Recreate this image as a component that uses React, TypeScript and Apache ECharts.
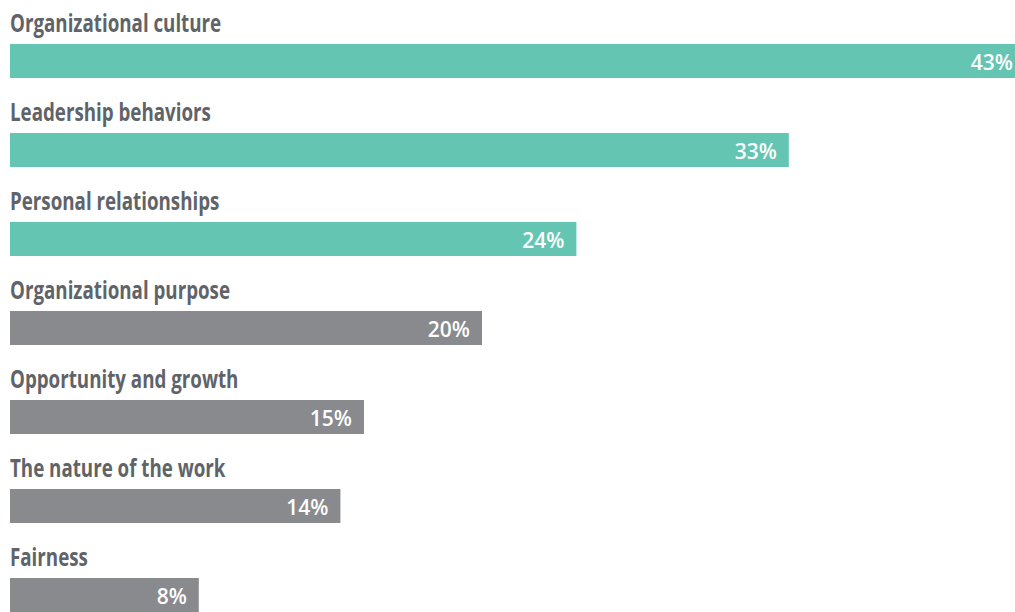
import React, { useEffect, useRef } from "react";
import * as echarts from "echarts";

const categories = [
  "Organizational culture",
  "Leadership behaviors",
  "Personal relationships",
  "Organizational purpose",
  "Opportunity and growth",
  "The nature of the work",
  "Fairness",
];
const values = [43, 33, 24, 20, 15, 14, 8];
const highlighted = [true, true, true, false, false, false, false];

const TEAL = "#64c5b2";
const GRAY = "#888a8e";
const BAR_W = 34;

export default function App() {
  const ref = useRef<HTMLDivElement>(null);
  useEffect(() => {
    if (!ref.current) return;
    const chart = echarts.init(ref.current, undefined, { renderer: "svg" });
    chart.setOption({
      animation: false,
      grid: { left: 10, right: 0, top: 16.5, height: 623, containLabel: false },
      xAxis: { type: "value", min: 0, max: 45, show: false },
      yAxis: {
        type: "category",
        data: categories,
        inverse: true,
        show: false,
      },
      series: [
        {
          type: "bar",
          barWidth: BAR_W,
          data: values.map((v, i) => ({
            value: v,
            itemStyle: { color: highlighted[i] ? TEAL : GRAY },
          })),
          label: {
            show: true,
            position: "insideRight",
            distance: 12,
            offset: [0, 1],
            formatter: "{c}%",
            color: "#ffffff",
            fontFamily: "Open Sans",
            fontWeight: 600,
            fontSize: 21,
          },
        },
      ],
    });
    const x0 = chart.convertToPixel({ xAxisIndex: 0 }, 0) as number;
    chart.setOption({
      graphic: categories.map((c) => {
        const yc = chart.convertToPixel({ yAxisIndex: 0 }, c) as number;
        return {
          type: "text",
          x: x0,
          y: yc - BAR_W / 2 - 9.5,
          scaleX: 0.75,
          silent: true,
          style: {
            x: 0,
            y: 0,
            text: c,
            fill: "#606368",
            font: "bold 25px 'Open Sans', sans-serif",
            textAlign: "left",
            textVerticalAlign: "bottom",
          },
        };
      }),
    });
    return () => chart.dispose();
  }, []);
  return (
    <div
      style={{
        position: "fixed",
        left: 0,
        top: 0,
        width: 1015,
        height: 612,
        overflow: "hidden",
        background: "#fff",
      }}
    >
      <div ref={ref} style={{ width: 1072, height: 660 }} />
    </div>
  );
}
